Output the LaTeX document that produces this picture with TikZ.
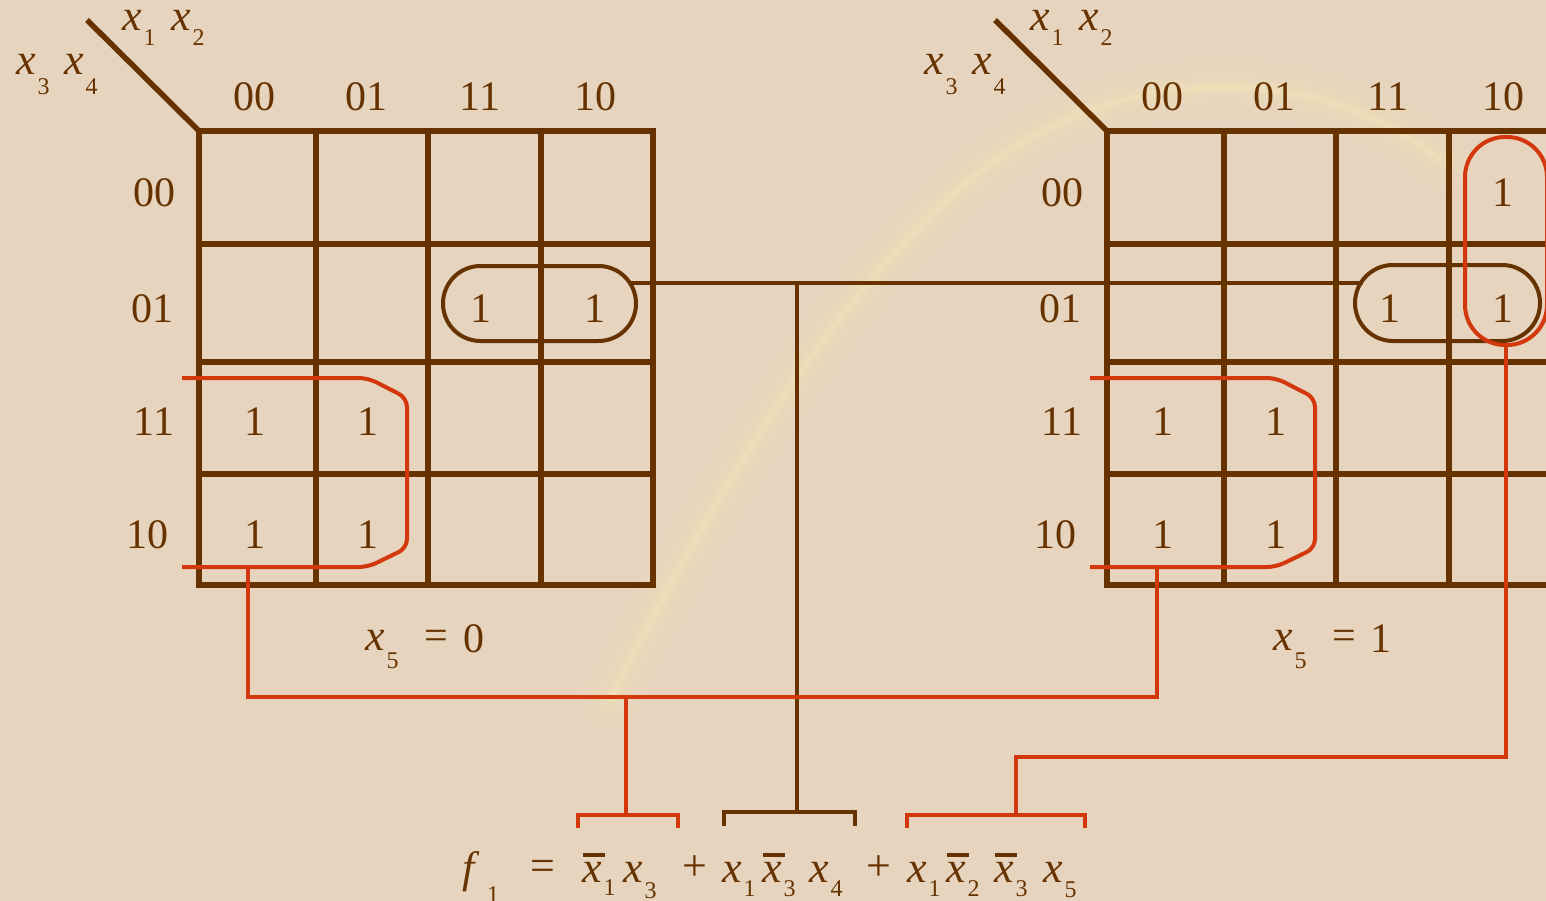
\documentclass[tikz,border=0pt]{standalone}
\usepackage{fontspec}
\setmainfont{Liberation Serif}
\usetikzlibrary{shapes.misc}

\definecolor{kbrown}{HTML}{663300}
\definecolor{kred}{HTML}{D2380C}
\definecolor{kbg}{HTML}{E6D4BE}
\definecolor{kglow}{HTML}{F8E9B4}

\newcommand\bigf{\fontsize{44}{44}\selectfont}
\newcommand\digf{\fontsize{42}{42}\selectfont}
\newcommand\subf{\fontsize{24}{24}\selectfont}
% variable x with a lowered index: #1 index, #2 drop in pt
\newcommand\xs[2]{\textit{x}\kern2pt\raisebox{-#2pt}{\subf #1}}
% the same with a bar over the x
\newcommand\xb[2]{\makebox[0pt][l]{\kern1pt\rule[25pt]{22pt}{4pt}}\xs{#1}{#2}}

\begin{document}
\begin{tikzpicture}[x=1pt,y=-1pt,
  gridline/.style={draw=kbrown, line width=5.5pt},
  link/.style={draw=kbrown, line width=4pt},
  redlink/.style={draw=kred, line width=4pt},
  bloop/.style={draw=kbrown, line width=4pt, rounded rectangle, inner sep=0pt},
  rloop/.style={draw=kred, line width=4pt, rectangle, rounded corners=40pt, inner sep=0pt},
  dig/.style={inner sep=0pt, anchor=base, text=kbrown, font=\digf},
  var/.style={inner sep=0pt, anchor=base west, text=kbrown, font=\bigf, text height=20pt}]
\useasboundingbox (0,0) rectangle (1546,901);
\clip (0,0) rectangle (1546,901);
\fill[kbg] (0,0) rectangle (1546,901);

% soft light streak in the background
\foreach \w/\o in {56/0.08, 32/0.12, 14/0.18, 5/0.25}
  \draw[line width=\w pt, draw=kglow, opacity=\o, line cap=round]
    (610,700) .. controls (720,480) and (860,250) .. (1010,150)
              .. controls (1150,60) and (1330,70) .. (1440,160);

% the two maps: frame, cell lines and corner diagonal
\foreach \dx in {0,908} {
  \draw[gridline] (199+\dx,131) rectangle (653+\dx,585);
  \foreach \cx in {316,428,541} \draw[gridline] (\cx+\dx,131) -- (\cx+\dx,585);
  \foreach \ry in {244,362,474} \draw[gridline] (199+\dx,\ry) -- (653+\dx,\ry);
  \draw[gridline] (87+\dx,20) -- (199+\dx,131);
}

% column and row headings
\foreach \dx/\m in {0/L,908/R} {
  \foreach \t/\cx/\i in {00/254/1,01/366/2,11/480/3,10/595/4}
    \node[dig] (col\m\i) at (\cx+\dx,111) {\t};
  \foreach \t/\rx/\ry/\i in {00/154/207/1,01/152/322/2,11/154/435/3,10/147/548/4}
    \node[dig] (row\m\i) at (\rx+\dx,\ry) {\t};
  \node[var] (vA\m) at (122+\dx,31) {\xs{1}{15}};
  \node[var] (vB\m) at (171+\dx,31) {\xs{2}{15}};
  \node[var] (vC\m) at (16+\dx,75) {\xs{3}{20}};
  \node[var] (vD\m) at (64+\dx,75) {\xs{4}{20}};
  \node[var] (vE\m) at (365+\dx,650) {\xs{5}{18}};
  \node[var, font=\digf] (eq\m) at (424+\dx,649) {=};
}
\node[dig] (val0) at (474,652) {0};
\node[dig] (val1) at (1381,652) {1};

% ones in the cells
\foreach \cx/\cy/\i in {255/435/1,368/435/2,255/548/3,368/548/4,481/322/5,595/322/6}
  \node[dig] (oneL\i) at (\cx,\cy) {1};
\foreach \cx/\cy/\i in {1163/435/1,1276/435/2,1163/548/3,1276/548/4,1390/322/5,1503/322/6,1503/207/7}
  \node[dig] (oneR\i) at (\cx,\cy) {1};

% groupings
\node[bloop, minimum width=193pt, minimum height=75pt] (gL) at (539.5,303.5) {};
\node[bloop, minimum width=185pt, minimum height=76pt] (gR) at (1447.5,303) {};
\draw[redlink, rounded corners=9pt]
  (182,378) -- (368,378) -- (407,398) -- (407,548) -- (368,567) -- (182,567);
\draw[redlink, rounded corners=9pt]
  (1090,378) -- (1276,378) -- (1315,398) -- (1315,548) -- (1276,567) -- (1090,567);
\node[rloop, minimum width=82pt, minimum height=208pt] (rV) at (1506,241) {};

% connection points
\coordinate (tL) at (631,283);
\coordinate (tR) at (1363,283);
\coordinate (jB) at (797,283);
\coordinate (qL) at (248,567);
\coordinate (qR) at (1157,567);
\coordinate (jR) at (626,697);
\coordinate (bA) at (626,815);
\coordinate (bB) at (797,812);
\coordinate (bC) at (1016,815);

% brown term: x1 x3' x4
\draw[link] (tL) -- (tR);
\draw[link] (jB) -- (bB);
\draw[link] (724,826) -- (724,812) -- (855,812) -- (855,826);

% red term: x1' x3
\draw[redlink] (qL) -- (248,697) -- (1157,697) -- (qR);
\draw[redlink] (jR) -- (bA);
\draw[redlink] (578,828) -- (578,815) -- (678,815) -- (678,828);

% red term: x1 x2' x3' x5
\draw[redlink] (rV.south) -- (1506,757) -- (1016,757) -- (bC);
\draw[redlink] (907,828) -- (907,815) -- (1085,815) -- (1085,828);

% the resulting function
\node[var] (fF) at (462,882) {\textit{f}};
\node[var, font=\subf] (fS) at (487,902) {1};
\node[var] (fEq) at (530,880) {=};
\node[var] (t1) at (582,882) {\xb{1}{13}};
\node[var] (t2) at (623,882) {\xs{3}{16}};
\node[var] (p1) at (682,880) {+};
\node[var] (t3) at (722,882) {\xs{1}{14}};
\node[var] (t4) at (762,882) {\xb{3}{14}};
\node[var] (t5) at (809,882) {\xs{4}{14}};
\node[var] (p2) at (866,880) {+};
\node[var] (t6) at (907,882) {\xs{1}{14}};
\node[var] (t7) at (946,882) {\xb{2}{14}};
\node[var] (t8) at (994,882) {\xb{3}{14}};
\node[var] (t9) at (1043,882) {\xs{5}{15}};
\end{tikzpicture}
\end{document}
